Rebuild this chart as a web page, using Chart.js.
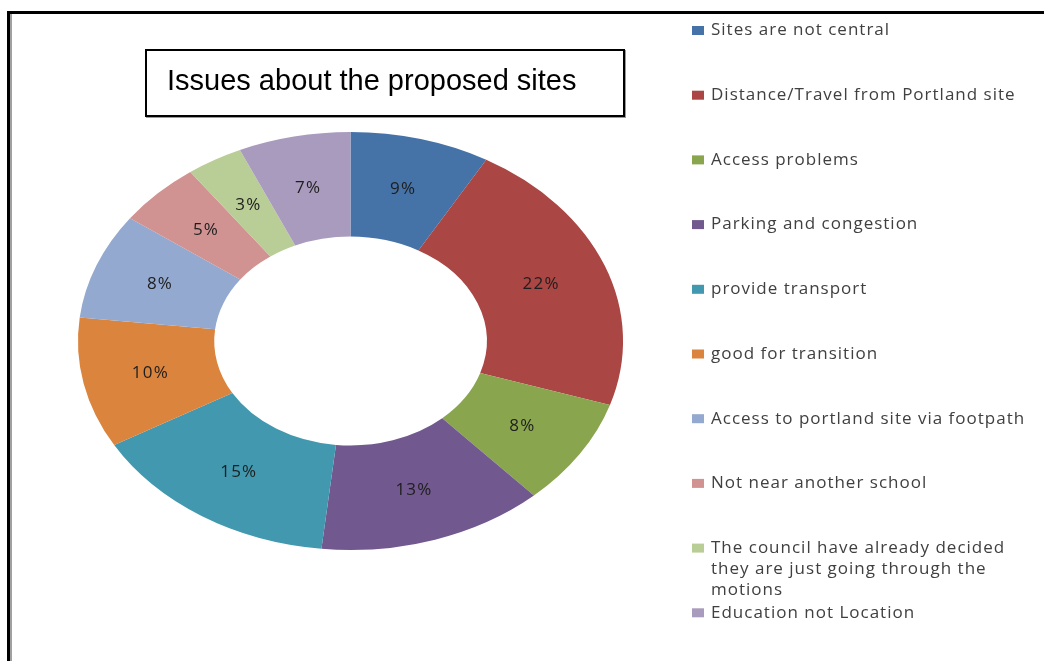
<!DOCTYPE html>
<html>
<head>
<meta charset="utf-8">
<script src="https://cdn.jsdelivr.net/npm/chart.js@4/dist/chart.umd.min.js"></script>
<style>
  html, body { margin: 0; padding: 0; background: #fff; }
  #wrap { position: relative; width: 1044px; height: 661px; overflow: hidden; }
  #frame {
    position: absolute; left: 7px; top: 11px; width: 1100px; height: 700px;
    border-left: 3px solid #000; border-top: 3px solid #000;
    box-shadow: inset 2px 0 0 #a0a0a0;
  }
  #titleBox {
    position: absolute; left: 145px; top: 49px; width: 476px; height: 64px;
    border: 2px solid #000; box-shadow: 1px 1px 0 #999;
    font-family: "Liberation Sans", Arial, sans-serif; font-size: 29px; color: #000;
    background: #fff;
  }
  #titleBox span { position: absolute; left: 20px; top: 13px; white-space: nowrap; }
  canvas { position: absolute; left: 0; top: 0; }
</style>
</head>
<body>
<div id="wrap">
  <div id="frame"></div>
  <canvas id="grafico" width="1044" height="661"></canvas>
  <div id="titleBox"><span id="titulo"></span></div>
</div>
<script>
var tituloGrafico = 'Issues about the proposed sites';
var categorias = [
  'Sites are not central',
  'Distance/Travel from Portland site',
  'Access problems',
  ' Parking and congestion',
  'provide transport',
  'good for transition',
  'Access to portland site via footpath',
  'Not near another school',
  'The council have already decided they are just going through the motions',
  'Education not Location'
];
// slice sizes (share of the ring, %)
var fatias = [8.3, 21.65, 8.3, 13.45, 15.0, 10.1, 8.2, 5.0, 3.35, 6.65];
// percentages as printed on the slices
var rotulos = [9, 22, 8, 13, 15, 10, 8, 5, 3, 7];
var cores = ['#4572A7', '#AA4643', '#89A54E', '#71588F', '#4198AF',
             '#DB843D', '#93A9CF', '#D19392', '#B9CD96', '#A99BBD'];

document.getElementById('titulo').textContent = tituloGrafico;

// the original doughnut is stretched sideways into an ellipse
var ESTICAR = 1.304;

function quebrarTexto(ctx, texto, largura){
    var palavras = texto.split(' ');
    var linhas = [];
    var atual = '';
    palavras.forEach(function(p){
        var teste = atual ? atual + ' ' + p : p;
        if (atual && ctx.measureText(teste).width > largura) {
            linhas.push(atual);
            atual = p;
        } else {
            atual = teste;
        }
    });
    if (atual) linhas.push(atual);
    return linhas;
}

var pluginElipse = {
    id: 'elipse',
    beforeDatasetsDraw: function(chart){
        var arco = chart.getDatasetMeta(0).data[0];
        var ctx = chart.ctx;
        ctx.save();
        ctx.translate(arco.x, 0);
        ctx.scale(ESTICAR, 1);
        ctx.translate(-arco.x, 0);
    },
    afterDatasetsDraw: function(chart){
        var ctx = chart.ctx;
        ctx.restore();

        // percentage labels in the middle of each slice
        ctx.save();
        ctx.font = '17px "Open Sans", sans-serif';
        ctx.letterSpacing = '1.2px';
        ctx.fillStyle = '#1e1e1e';
        ctx.textAlign = 'center';
        ctx.textBaseline = 'middle';
        chart.getDatasetMeta(0).data.forEach(function(arco, i){
            var p = arco.getProps(['x', 'y', 'startAngle', 'endAngle', 'innerRadius', 'outerRadius']);
            var a = (p.startAngle + p.endAngle) / 2;
            var r = (p.innerRadius + p.outerRadius) / 2;
            var x = p.x + Math.cos(a) * r * ESTICAR;
            var y = p.y + Math.sin(a) * r;
            ctx.fillText(rotulos[i] + '%', x, y);
        });
        ctx.restore();

        // legend on the right
        ctx.save();
        ctx.font = '17px "Open Sans", sans-serif';
        ctx.letterSpacing = '1px';
        ctx.textBaseline = 'middle';
        ctx.textAlign = 'left';
        var topo = 30.5, passo = 64.7, alturaLinha = 21;
        categorias.forEach(function(nome, i){
            var y = topo + i * passo;
            ctx.fillStyle = cores[i];
            ctx.fillRect(692, y - 4.5, 12, 9);
            ctx.fillStyle = '#404040';
            var linhas = quebrarTexto(ctx, nome, 326);
            linhas.forEach(function(l, k){
                ctx.fillText(l, 711, y + k * alturaLinha);
            });
        });
        ctx.restore();
    }
};

var ctx = document.getElementById('grafico');
var chartIssues = new Chart(ctx, {
    type: 'doughnut',
    data: {
        labels: categorias,
        datasets: [{
            data: fatias,
            backgroundColor: cores,
            borderWidth: 0,
            hoverOffset: 0
        }]
    },
    options: {
        responsive: false,
        animation: false,
        events: [],
        cutout: '50%',
        layout: {
            padding: { left: 141, right: 484, top: 132, bottom: 111 }
        },
        plugins: {
            legend: { display: false },
            tooltip: { enabled: false }
        }
    },
    plugins: [pluginElipse]
});
</script>
</body>
</html>
